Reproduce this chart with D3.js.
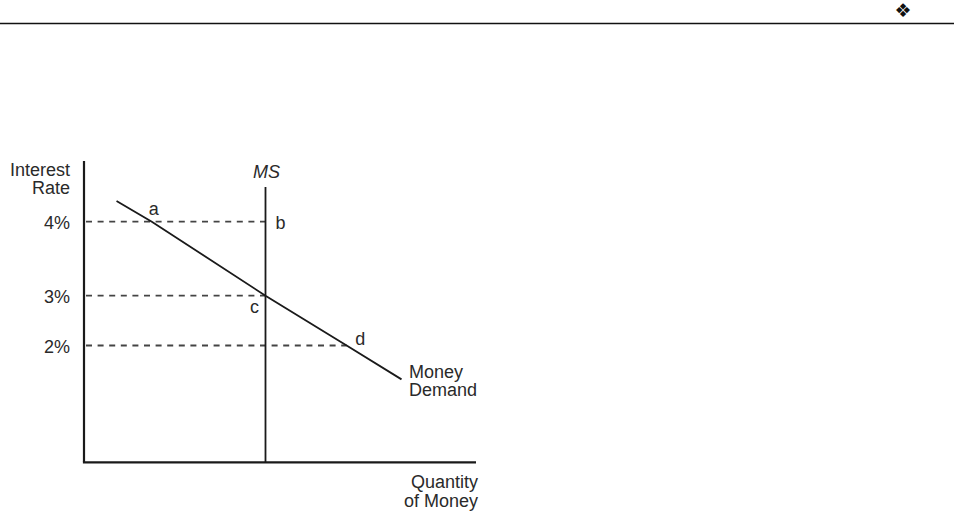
<!DOCTYPE html>
<html>
<head>
<meta charset="utf-8">
<script src="https://cdn.jsdelivr.net/npm/d3@7"></script>
<style>
  html, body { margin: 0; padding: 0; background: #fff; }
  svg { display: block; }
  text { font-family: "Liberation Sans", Arial, Helvetica, sans-serif; fill: #2a2a2a; }
</style>
</head>
<body>
<div id="chart"></div>
<script>
// interest rates marked on the vertical axis
const rates = [4, 3, 2];
const rateLabels = ["4%", "3%", "2%"];

// money demand curve (quantity units 0-100, rate in %)
const demandQty = [8.3, 17.3, 46.3, 67.0, 81.0];
const demandRate = [4.28, 4, 3, 2, 1.32];

// money supply (vertical) and the labelled points
const msQty = 46.3;
const msTopRate = 4.47;
const pointNames = ["a", "b", "c", "d"];
const pointQty = [17.3, 46.3, 46.3, 67.0];
const pointRate = [4, 4, 3, 2];

const width = 954, height = 514;
const plot = { left: 84, right: 476, top: 161, bottom: 462.3 };
const fontSize = "18px";

const svg = d3.select("#chart")
    .append("svg")
    .attr("width", width)
    .attr("height", height)
    .attr("viewBox", [0, 0, width, height]);

// the figure is schematic, so the rate axis is not evenly spaced
const x = d3.scaleLinear()
    .domain([0, 100])
    .range([plot.left, plot.right]);

const y = d3.scaleLinear()
    .domain([2, 3, 4])
    .range([345.5, 295.7, 221.7]);

// page rule and ornament at the top
svg.append("line")
    .attr("x1", 0).attr("x2", width)
    .attr("y1", 23.5).attr("y2", 23.5)
    .attr("stroke", "#111")
    .attr("stroke-width", 1.5);

svg.append("text")
    .attr("x", 903).attr("y", 9.5)
    .attr("text-anchor", "middle")
    .attr("dominant-baseline", "central")
    .style("font-family", "'DejaVu Sans', sans-serif")
    .style("font-size", "19px")
    .style("fill", "#111")
    .text("\u2756");

// dashed guides from the axis to each marked point
svg.append("g")
    .selectAll("line")
    .data(rates)
    .join("line")
    .attr("x1", plot.left + 2)
    .attr("x2", d => x(rates.indexOf(d) === 2 ? pointQty[3] : msQty))
    .attr("y1", d => y(d))
    .attr("y2", d => y(d))
    .attr("stroke", "#444")
    .attr("stroke-width", 1.8)
    .attr("stroke-dasharray", "6,5.6");

// rate tick labels
const yAxis = svg.append("g")
    .attr("transform", `translate(${plot.left},0)`)
    .call(d3.axisLeft(y)
        .tickValues(rates)
        .tickSize(0)
        .tickPadding(14)
        .tickFormat((d, i) => rateLabels[i]));
yAxis.select(".domain").remove();
yAxis.selectAll("text")
    .attr("dy", "0.38em")
    .style("font-size", fontSize)
    .style("font-family", "'Liberation Sans', Arial, sans-serif")
    .style("fill", "#2a2a2a");

// axis lines
svg.append("line")
    .attr("x1", plot.left).attr("x2", plot.left)
    .attr("y1", plot.top).attr("y2", plot.bottom)
    .attr("stroke", "#1a1a1a")
    .attr("stroke-width", 2.2);

svg.append("line")
    .attr("x1", plot.left - 1.1).attr("x2", plot.right)
    .attr("y1", plot.bottom).attr("y2", plot.bottom)
    .attr("stroke", "#1a1a1a")
    .attr("stroke-width", 2.2);

// money supply
svg.append("line")
    .attr("x1", x(msQty)).attr("x2", x(msQty))
    .attr("y1", y(msTopRate)).attr("y2", plot.bottom)
    .attr("stroke", "#1a1a1a")
    .attr("stroke-width", 1.8);

svg.append("text")
    .attr("x", x(msQty) + 1)
    .attr("y", 178.3)
    .attr("text-anchor", "middle")
    .style("font-size", fontSize)
    .style("font-style", "italic")
    .text("MS");

// money demand
const demand = d3.zip(demandQty, demandRate);
svg.append("path")
    .datum(demand)
    .attr("fill", "none")
    .attr("stroke", "#1a1a1a")
    .attr("stroke-width", 1.8)
    .attr("d", d3.line().x(d => x(d[0])).y(d => y(d[1])));

// point letters
const offsets = { a: [-3, -6.5, "start"], b: [10, 7, "start"], c: [-11, 17.5, "middle"], d: [8.5, -0.5, "start"] };
svg.append("g")
    .selectAll("text")
    .data(pointNames)
    .join("text")
    .attr("x", (d, i) => x(pointQty[i]) + offsets[d][0])
    .attr("y", (d, i) => y(pointRate[i]) + offsets[d][1])
    .attr("text-anchor", d => offsets[d][2])
    .style("font-size", fontSize)
    .text(d => d);

// titles, one text per line
function block(lines, tx, ty, anchor, lead) {
    lines.forEach((s, i) => {
        svg.append("text")
            .attr("x", tx)
            .attr("y", ty + i * lead)
            .attr("text-anchor", anchor)
            .style("font-size", fontSize)
            .text(s);
    });
}

block(["Interest", "Rate"], 70, 176, "end", 18.3);
block(["Money", "Demand"], 409, 377.5, "start", 18.8);
block(["Quantity", "of Money"], 478, 488, "end", 18.8);
</script>
</body>
</html>
